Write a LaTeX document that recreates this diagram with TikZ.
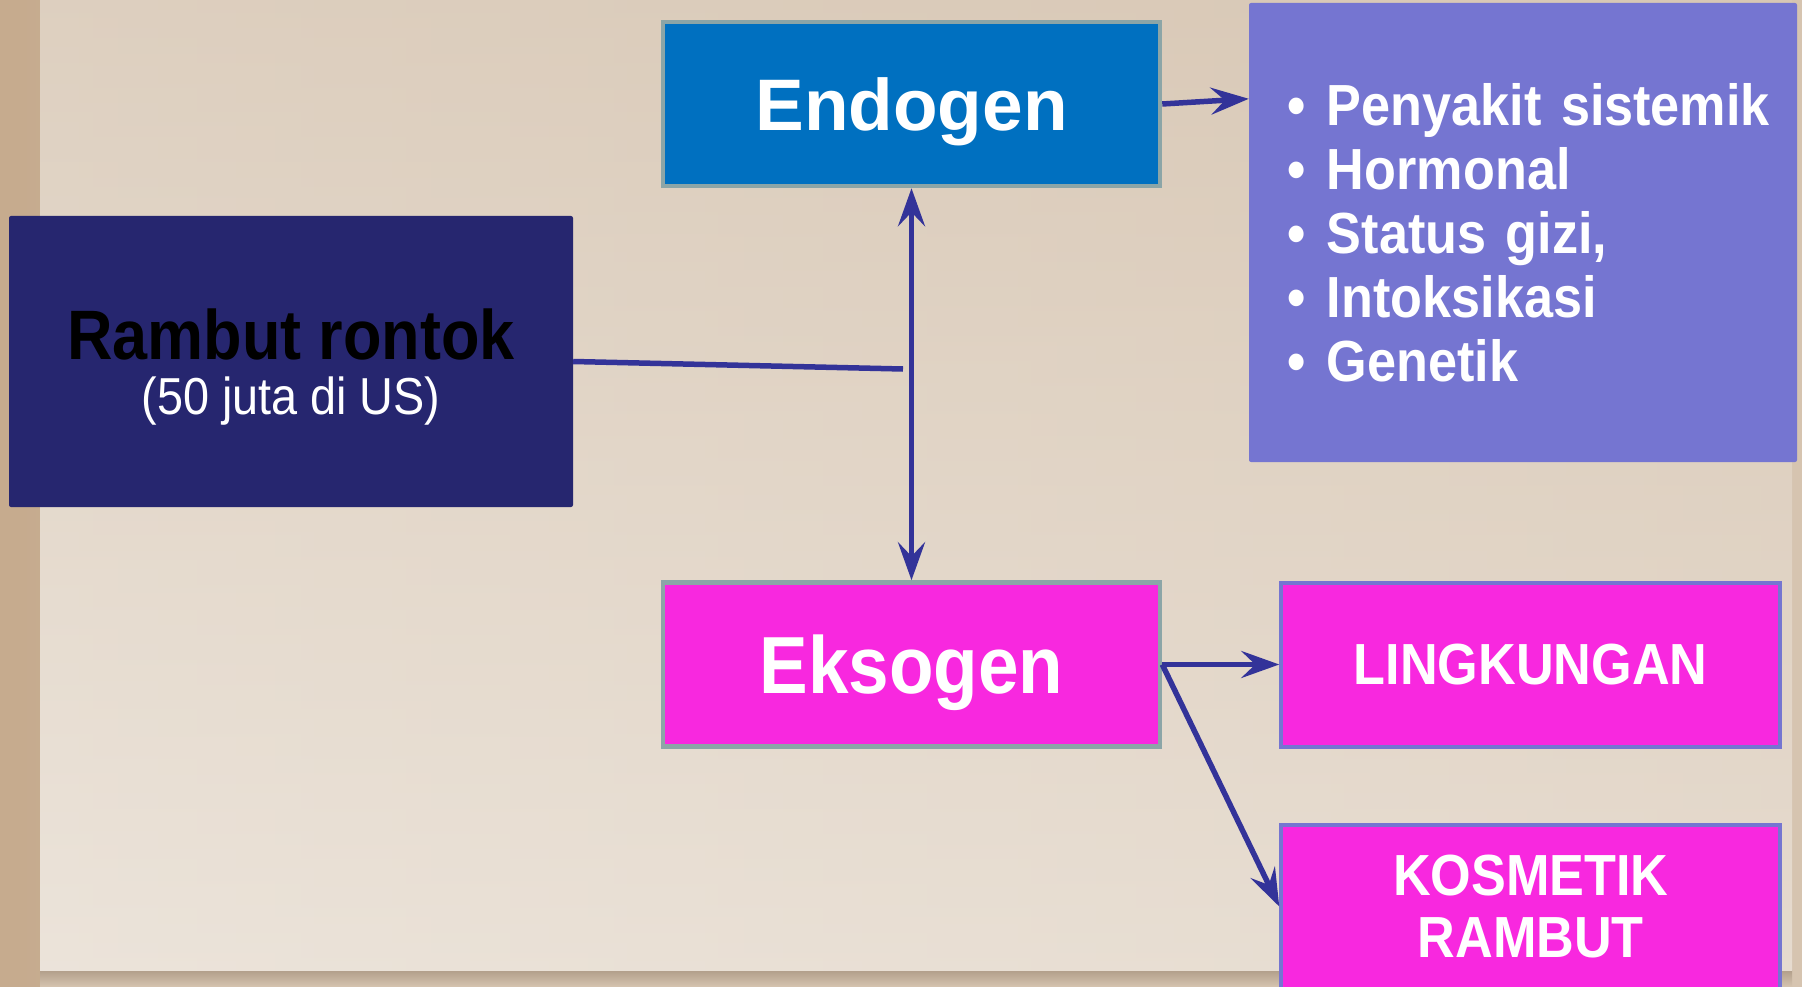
\documentclass[tikz,border=0pt]{standalone}
\usepackage{fontspec}
\setmainfont{Liberation Sans}
\newfontfamily\narrowsans[FakeStretch=0.9]{Liberation Sans}
\usetikzlibrary{arrows.meta,positioning}
\definecolor{navybox}{HTML}{26266F}
\definecolor{endoblue}{HTML}{0070C0}
\definecolor{grayline}{HTML}{8BA5A7}
\definecolor{listblue}{HTML}{7575D1}
\definecolor{eksopink}{HTML}{F828DF}
\definecolor{arrowblue}{HTML}{333399}
\definecolor{frametan}{HTML}{C6AB8E}
\definecolor{paneltan}{HTML}{D6C4B0}
\definecolor{panelbeige}{HTML}{E6DCD0}
\definecolor{panelcream}{HTML}{F1EBE4}
\begin{document}
\begin{tikzpicture}[x=1pt,y=-1pt,
	box/.style={draw=grayline,line width=4.5pt,minimum width=497pt,minimum height=164pt,text=white,text depth=0pt},
	subbox/.style={draw=listblue,line width=4pt,fill=eksopink,minimum width=499pt,minimum height=164pt,text=white,align=center,font=\narrowsans\bfseries\fontsize{58}{62}\selectfont},
	conn/.style={draw=arrowblue,line width=5.5pt},
	>={Stealth[length=38pt,width=27pt,inset=14pt]}]
		\clip (0,0) rectangle (1802,987);
		\shade[left color=frametan,right color=paneltan] (0,0) rectangle (1802,987);
		\shade[top color=frametan!70!gray,bottom color=paneltan] (40,970) rectangle (1792,987);
		\shade[left color=panelbeige,middle color=panelcream,right color=paneltan!70!panelbeige] (40,0) rectangle (1792,970);
		\shade[top color=paneltan,bottom color=panelcream,opacity=0.5] (40,0) rectangle (1792,970);

		\node(rambut) [fill=navybox,rounded corners=2pt,minimum width=564pt,minimum height=291pt,align=center] at (291,361.5) {{\narrowsans\bfseries\fontsize{70}{70}\selectfont\rule{0pt}{62pt}Rambut rontok}\\[15pt]{\narrowsans\color{white}\fontsize{52}{52}\selectfont (50 juta di US)}};
		\node(endo) [box,fill=endoblue,font=\bfseries\fontsize{73}{80}\selectfont] at (911.5,104) {Endogen};
		\node(eks) [box,fill=eksopink,below=392pt of endo,font=\narrowsans\bfseries\fontsize{81}{90}\selectfont] {Eksogen};
		\node(endolist) [fill=listblue,rounded corners=2pt,minimum width=548pt,minimum height=459pt,text width=472pt,align=left,text=white,font=\narrowsans\bfseries\fontsize{58}{64}\selectfont] at (1523,232.5) {\mbox{\makebox[40pt][l]{\textbullet}Penyakit sistemik}\\\makebox[40pt][l]{\textbullet}Hormonal\\\makebox[40pt][l]{\textbullet}Status gizi,\\\makebox[40pt][l]{\textbullet}Intoksikasi\\\makebox[40pt][l]{\textbullet}Genetik};
		\node(ling) [subbox,right=117pt of eks] {LINGKUNGAN};
		\node(kos) [subbox,below=74pt of ling] {KOSMETIK\\RAMBUT};
		\coordinate(meet) at (903,369);

		\draw[conn] (rambut.east) -- (meet);
		\draw[conn,<->] (endo.south) -- (eks.north);
		\draw[conn,->] (endo.east) -- ([yshift=-96pt]endolist.north west);
		\draw[conn,->] (eks.east) -- (ling.west);
		\draw[conn,->] (eks.east) -- (kos.west);
\end{tikzpicture}
\end{document}
